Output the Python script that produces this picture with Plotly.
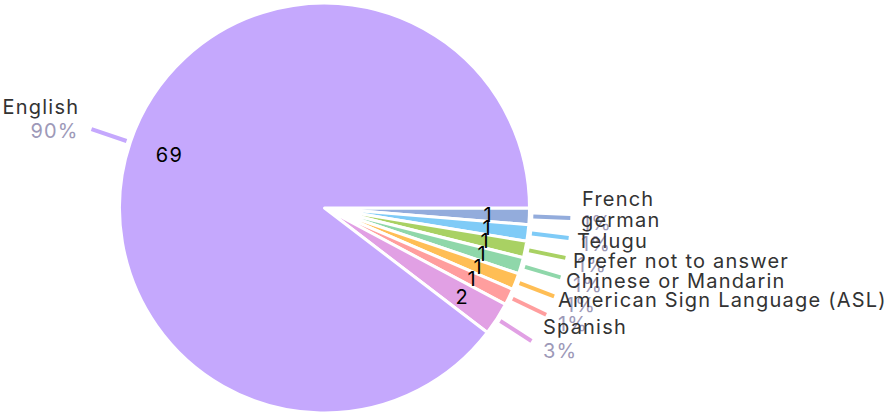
import math
import plotly.graph_objects as go

labels = ["French", "german", "Telugu", "Prefer not to answer", "Chinese or Mandarin",
          "American Sign Language (ASL)", "Spanish", "English"]
values = [1, 1, 1, 1, 1, 1, 2, 69]
colors = ["#93acdc", "#7fcbf7", "#a9d163", "#8fd7aa", "#ffbe55", "#ff9e9e", "#e1a0e4", "#c5a8fd"]

W, H = 896, 414
CX, CY, R = 324.5, 208.0, 205.0
FONT = "Inter, Lato, sans-serif"
FS = 20

fig = go.Figure(go.Pie(
    labels=labels, values=values, sort=False, direction="clockwise", rotation=90,
    marker=dict(colors=colors, line=dict(color="white", width=3)),
    textinfo="none", hoverinfo="label+value+percent", showlegend=False,
    domain=dict(x=[(CX - R) / W, (CX + R) / W], y=[(H - CY - R) / H, (H - CY + R) / H]),
))

def px(x, y):
    return x / W, 1 - y / H

total = sum(values)
cum = 0.0
shapes, annotations = [], []
for lab, v, col in zip(labels, values, colors):
    mid = math.radians((cum + v / 2) / total * 360)
    cum += v
    c, s = math.cos(mid), math.sin(mid)
    # value label
    vx, vy = px(CX + 0.8 * R * c, CY + 0.8 * R * s)
    annotations.append(dict(x=vx, y=vy, xref="paper", yref="paper", text=str(v), showarrow=False,
                            font=dict(family=FONT, size=FS, color="#000000"),
                            xanchor="center", yanchor="middle"))
    # leader line
    x0, y0 = px(CX + (R + 4) * c, CY + (R + 4) * s)
    ex, ey = CX + (R + 41) * c, CY + (R + 41) * s
    x1, y1 = px(ex, ey)
    shapes.append(dict(type="line", xref="paper", yref="paper", x0=x0, y0=y0, x1=x1, y1=y1,
                       line=dict(color=col, width=4)))
    right = c >= 0
    lx = ex + 10 if right else ex - 10
    ny = ey - 19 + 9.5 * s
    py_ = ny + 24
    pct = f"{round(v / total * 100)}%"
    side = "left" if right else "right"
    ax, ay = px(lx, ny)
    annotations.append(dict(x=ax, y=ay, xref="paper", yref="paper", text=lab, showarrow=False,
                            font=dict(family=FONT, size=FS, color="#333333"),
                            xanchor=side, align=side, yanchor="middle"))
    ax, ay = px(lx, py_)
    annotations.append(dict(x=ax, y=ay, xref="paper", yref="paper", text=pct, showarrow=False,
                            font=dict(family=FONT, size=FS, color="#9d99b8"),
                            xanchor=side, align=side, yanchor="middle"))

fig.update_layout(width=W, height=H, margin=dict(l=0, r=0, t=0, b=0),
                  paper_bgcolor="white", plot_bgcolor="white",
                  shapes=shapes, annotations=annotations)

post = (
    "var st=document.createElement('style');"
    "st.innerHTML='body{margin:0;padding:0;} .annotation-text{letter-spacing:1.2px;}';"
    "document.head.appendChild(st);"
)
fig.write_html("out.html", post_script=post, config={"displayModeBar": False})
